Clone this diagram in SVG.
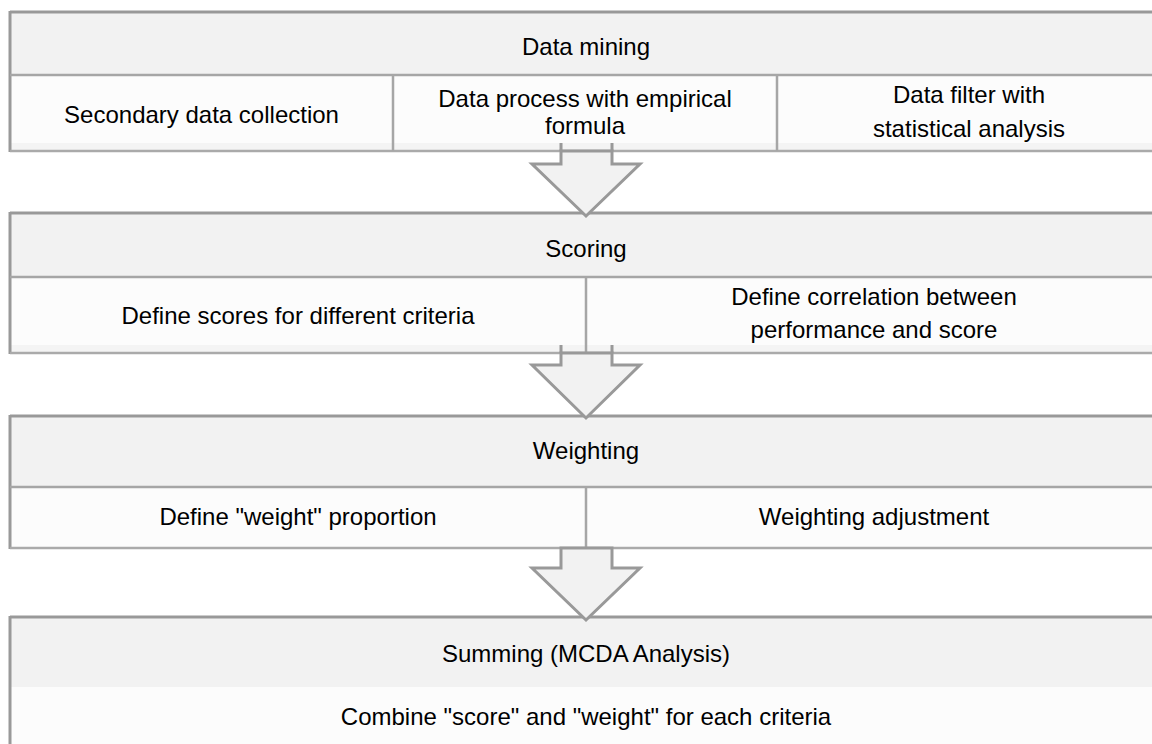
<svg xmlns="http://www.w3.org/2000/svg" width="1152" height="744" viewBox="0 0 1152 744">
<style>
.hdr{fill:#f2f2f2;}
.sub{fill:#fcfcfc;}
.strip{fill:#f4f4f4;}
.outer{fill:none;stroke:#999999;stroke-width:3;}
.ln{stroke:#a6a6a6;stroke-width:2.5;fill:none;}
.bot{stroke:#aaaaaa;stroke-width:2.5;fill:none;}
.t{font-family:"Liberation Sans",Arial,sans-serif;font-size:24px;fill:#000000;text-anchor:middle;}
.arrow{fill:#f2f2f2;stroke:#999999;stroke-width:3;stroke-linejoin:miter;}
.stub{stroke:#999999;stroke-width:3;}
</style>
<rect width="1152" height="744" fill="#ffffff"/>

<g id="box-data-mining">
<rect class="hdr" x="10" y="12" width="1152" height="63"/>
<rect class="sub" x="10" y="75" width="1152" height="76"/>
<rect class="strip" x="10" y="143" width="1152" height="8"/>
<line class="outer" x1="10" y1="12" x2="1162" y2="12"/>
<line class="outer" x1="10" y1="11" x2="10" y2="152"/>
<line class="ln" x1="10" y1="75" x2="1162" y2="75"/>
<line class="bot" x1="10" y1="151" x2="1162" y2="151"/>
<line class="ln" x1="393" y1="75" x2="393" y2="151"/>
<line class="ln" x1="777" y1="75" x2="777" y2="151"/>
<text class="t" x="586" y="55">Data mining</text>
<text class="t" x="201.5" y="123">Secondary data collection</text>
<text class="t" x="585" y="107">Data process with empirical</text>
<text class="t" x="585" y="134">formula</text>
<text class="t" x="969" y="103">Data filter with</text>
<text class="t" x="969" y="137">statistical analysis</text>
</g>

<g id="box-scoring">
<rect class="hdr" x="10" y="213" width="1152" height="64"/>
<rect class="sub" x="10" y="277" width="1152" height="76"/>
<rect class="strip" x="10" y="345" width="1152" height="8"/>
<line class="outer" x1="10" y1="213" x2="1162" y2="213"/>
<line class="outer" x1="10" y1="212" x2="10" y2="354"/>
<line class="ln" x1="10" y1="277" x2="1162" y2="277"/>
<line class="bot" x1="10" y1="353" x2="1162" y2="353"/>
<line class="ln" x1="586" y1="277" x2="586" y2="353"/>
<text class="t" x="586" y="257">Scoring</text>
<text class="t" x="298" y="324">Define scores for different criteria</text>
<text class="t" x="874" y="305">Define correlation between</text>
<text class="t" x="874" y="338">performance and score</text>
</g>

<g id="box-weighting">
<rect class="hdr" x="10" y="416" width="1152" height="71"/>
<rect class="sub" x="10" y="487" width="1152" height="61"/>
<line class="outer" x1="10" y1="416" x2="1162" y2="416"/>
<line class="outer" x1="10" y1="415" x2="10" y2="549"/>
<line class="ln" x1="10" y1="487" x2="1162" y2="487"/>
<line class="bot" x1="10" y1="548" x2="1162" y2="548"/>
<line class="ln" x1="586" y1="487" x2="586" y2="548"/>
<text class="t" x="586" y="459">Weighting</text>
<text class="t" x="298" y="525">Define "weight" proportion</text>
<text class="t" x="874" y="525">Weighting adjustment</text>
</g>

<g id="box-summing">
<rect class="hdr" x="10" y="617" width="1152" height="70"/>
<rect class="sub" x="10" y="687" width="1152" height="60"/>
<line class="outer" x1="10" y1="617" x2="1162" y2="617"/>
<line class="outer" x1="10" y1="616" x2="10" y2="746"/>
<text class="t" x="586" y="662">Summing (MCDA Analysis)</text>
<text class="t" x="586" y="725">Combine "score" and "weight" for each criteria</text>
</g>

<g id="connectors">
<line class="stub" x1="561" y1="143" x2="561" y2="151"/>
<line class="stub" x1="612" y1="143" x2="612" y2="151"/>
<polygon class="arrow" points="561,151 561,164 532,164 586,216 640,164 612,164 612,151"/>
<line class="stub" x1="561" y1="345" x2="561" y2="353"/>
<line class="stub" x1="612" y1="345" x2="612" y2="353"/>
<polygon class="arrow" points="561,353 561,365 532,365 586,418 640,365 612,365 612,353"/>
<polygon class="arrow" points="561,548 561,568 532,568 586,620 640,568 612,568 612,548"/>
</g>
</svg>
